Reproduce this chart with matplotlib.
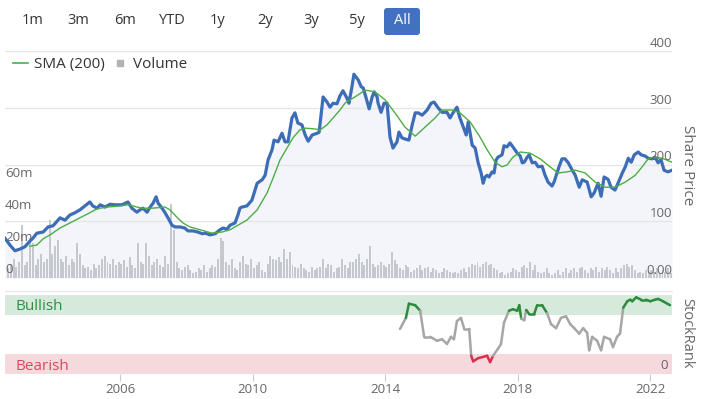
import numpy as np
import matplotlib.pyplot as plt
from matplotlib.lines import Line2D
from matplotlib.patches import FancyBboxPatch
from matplotlib.transforms import IdentityTransform
from matplotlib.collections import LineCollection

plt.rcParams['font.family'] = ['Open Sans', 'DejaVu Sans']

# Precio de la accion (año decimal, precio)
price_years = [2002.53, 2002.68, 2002.83, 2002.98, 2003.13, 2003.28, 2003.37, 2003.49, 2003.68, 2003.83,
               2003.98, 2004.10, 2004.19, 2004.34, 2004.49, 2004.64, 2004.79, 2004.94, 2005.09, 2005.18,
               2005.31, 2005.40, 2005.55, 2005.70, 2005.85, 2006.06, 2006.24, 2006.36, 2006.51, 2006.60,
               2006.69, 2006.82, 2006.91, 2007.00, 2007.09, 2007.15, 2007.27, 2007.36, 2007.45, 2007.57,
               2007.66, 2007.81, 2007.96, 2008.05, 2008.20, 2008.35, 2008.48, 2008.57, 2008.72, 2008.87,
               2009.02, 2009.11, 2009.23, 2009.32, 2009.47, 2009.56, 2009.62, 2009.68, 2009.83, 2009.98,
               2010.14, 2010.29, 2010.38, 2010.47, 2010.59, 2010.65, 2010.77, 2010.89, 2010.98, 2011.07,
               2011.19, 2011.28, 2011.37, 2011.49, 2011.59, 2011.68, 2011.80, 2011.95, 2012.01, 2012.13,
               2012.25, 2012.34, 2012.43, 2012.55, 2012.64, 2012.73, 2012.85, 2012.91, 2013.00, 2013.06,
               2013.19, 2013.28, 2013.34, 2013.43, 2013.52, 2013.61, 2013.67, 2013.76, 2013.79, 2013.88,
               2013.97, 2014.06, 2014.15, 2014.24, 2014.36, 2014.42, 2014.51, 2014.60, 2014.72, 2014.82,
               2014.91, 2015.00, 2015.12, 2015.27, 2015.39, 2015.48, 2015.60, 2015.72, 2015.87, 2015.96,
               2016.05, 2016.17, 2016.26, 2016.36, 2016.45, 2016.51, 2016.63, 2016.72, 2016.81, 2016.90,
               2016.96, 2017.02, 2017.08, 2017.14, 2017.23, 2017.29, 2017.35, 2017.41, 2017.53, 2017.59,
               2017.68, 2017.77, 2017.86, 2017.99, 2018.08, 2018.14, 2018.20, 2018.29, 2018.35, 2018.44,
               2018.53, 2018.62, 2018.74, 2018.83, 2018.92, 2019.04, 2019.10, 2019.19, 2019.25, 2019.34,
               2019.43, 2019.53, 2019.65, 2019.74, 2019.86, 2019.95, 2020.10, 2020.22, 2020.31, 2020.43,
               2020.52, 2020.61, 2020.73, 2020.82, 2020.94, 2021.03, 2021.16, 2021.25, 2021.34, 2021.43,
               2021.52, 2021.64, 2021.73, 2021.85, 2021.94, 2022.06, 2022.15, 2022.24, 2022.33, 2022.42,
               2022.54, 2022.66]
price = [70, 58, 48, 51, 55, 65, 70, 79, 81, 90,
         92, 100, 106, 102, 111, 115, 120, 127, 134, 127,
         123, 129, 125, 130, 129, 129, 134, 123, 116, 120,
         123, 116, 125, 132, 143, 132, 123, 115, 106, 93,
         90, 90, 88, 83, 83, 81, 78, 79, 76, 78,
         85, 88, 86, 93, 97, 111, 123, 125, 127, 137,
         167, 173, 181, 208, 226, 243, 240, 255, 240, 240,
         282, 291, 273, 270, 252, 241, 252, 255, 257, 319,
         310, 301, 308, 307, 321, 330, 317, 308, 337, 359,
         349, 337, 335, 317, 298, 319, 328, 319, 308, 292,
         308, 308, 248, 229, 240, 257, 247, 245, 243, 270,
         291, 291, 287, 296, 308, 310, 300, 292, 292, 282,
         291, 301, 282, 266, 252, 275, 234, 229, 203, 185,
         167, 178, 181, 178, 187, 185, 208, 213, 217, 233,
         231, 238, 231, 220, 215, 203, 204, 213, 217, 203,
         204, 196, 197, 181, 169, 162, 169, 185, 196, 210,
         210, 203, 190, 181, 160, 173, 169, 143, 150, 167,
         144, 178, 174, 160, 155, 167, 185, 196, 211, 204,
         217, 222, 217, 215, 211, 210, 213, 203, 208, 190,
         187, 190]

# Media movil SMA (200)
sma_years = [2003.28, 2003.49, 2003.68, 2003.89, 2004.19, 2004.49, 2004.79, 2005.09, 2005.31, 2005.61,
             2006.00, 2006.24, 2006.66, 2006.97, 2007.36, 2007.51, 2007.72, 2007.90, 2008.11, 2008.42,
             2008.78, 2009.08, 2009.32, 2009.53, 2009.83, 2010.14, 2010.44, 2010.62, 2010.83, 2011.04,
             2011.22, 2011.43, 2011.59, 2011.83, 2012.04, 2012.25, 2012.43, 2012.64, 2012.79, 2012.94,
             2013.09, 2013.40, 2013.70, 2014.00, 2014.30, 2014.60, 2014.91, 2015.21, 2015.51, 2015.72,
             2016.02, 2016.26, 2016.57, 2016.87, 2017.08, 2017.32, 2017.53, 2017.68, 2017.86, 2018.08,
             2018.38, 2018.68, 2018.98, 2019.22, 2019.50, 2019.74, 2020.04, 2020.34, 2020.64, 2020.94,
             2021.25, 2021.55, 2021.76, 2021.94, 2022.15, 2022.36, 2022.66]
sma = [56, 58, 69, 76, 88, 97, 106, 115, 122, 125,
       127, 129, 123, 123, 125, 120, 107, 97, 90, 85,
       79, 81, 85, 92, 102, 120, 150, 176, 208, 229,
       247, 261, 264, 263, 261, 270, 282, 296, 308, 314,
       319, 331, 328, 314, 291, 266, 250, 266, 282, 296,
       296, 291, 275, 248, 226, 204, 196, 199, 213, 222,
       220, 210, 196, 185, 187, 190, 185, 169, 160, 160,
       169, 181, 196, 210, 213, 211, 204]

# Volumen mensual (millones), desde agosto 2002
volume = ([6, 9, 12, 7, 10] +
          [33, 8, 10, 25, 22, 8, 12, 15, 10, 12, 36, 15] +
          [20, 24, 12, 10, 14, 8, 12, 10, 22, 15, 8, 6] +
          [7, 5, 9, 6, 8, 12, 14, 10, 9, 12, 8, 10] +
          [9, 11, 7, 13, 8, 6, 22, 10, 9, 22, 14, 8] +
          [10, 12, 8, 7, 14, 9, 46, 30, 10, 6, 5, 7] +
          [8, 5, 3, 4, 6, 5, 8, 4, 6, 8, 7, 12] +
          [25, 23, 10, 8, 12, 6, 5, 10, 14, 9, 8, 12] +
          [6, 8, 10, 5, 4, 9, 14, 12, 11, 13, 10, 18] +
          [12, 16, 8, 7, 6, 9, 6, 5, 4, 7, 5, 6] +
          [7, 12, 6, 9, 8, 4, 6, 7, 12, 8, 6, 10] +
          [10, 12, 15, 10, 8, 12, 20, 9, 7, 8, 10, 8] +
          [7, 9, 16, 11, 9, 6, 5, 8, 7, 4, 5, 6] +
          [8, 5, 6, 7, 4, 6, 5, 3, 4, 6, 5, 4] +
          [3, 4, 3, 5, 6, 4, 7, 9, 8, 10, 7, 9] +
          [10, 8, 9, 6, 5, 3, 4, 2, 3, 4, 6, 5] +
          [4, 7, 8, 6, 10, 5, 8, 4, 3, 4, 6, 3] +
          [2, 3, 5, 2, 4, 6, 3, 5, 6, 4, 6, 7] +
          [5, 3, 6, 5, 7, 4, 6, 5, 7, 5, 3, 6] +
          [4, 6, 8, 9, 7, 8, 5, 3, 4, 3, 5, 4] +
          [5, 4, 6, 3, 5, 4, 6, 3, 4])
vol_years = 2002 + (7 + np.arange(len(volume))) / 12 + 0.04

# StockRank
rank_years = [2014.45, 2014.63, 2014.72, 2014.91, 2015.06, 2015.18, 2015.37, 2015.57, 2015.72, 2015.87,
              2015.99, 2016.08, 2016.17, 2016.29, 2016.39, 2016.54, 2016.60, 2016.66, 2016.81, 2017.08,
              2017.17, 2017.26, 2017.41, 2017.50, 2017.59, 2017.74, 2017.86, 2017.99, 2018.05, 2018.11,
              2018.20, 2018.26, 2018.35, 2018.50, 2018.59, 2018.74, 2018.89, 2019.01, 2019.16, 2019.31,
              2019.46, 2019.59, 2019.71, 2019.86, 2019.98, 2020.10, 2020.16, 2020.25, 2020.40, 2020.52,
              2020.61, 2020.79, 2020.88, 2021.00, 2021.09, 2021.19, 2021.31, 2021.40, 2021.46, 2021.58,
              2021.73, 2021.88, 2022.00, 2022.15, 2022.24, 2022.39, 2022.60]
rank = [57, 71, 89, 87, 80, 47, 47, 42, 44, 38,
        47, 44, 67, 71, 57, 57, 23, 16, 20, 23,
        15, 23, 32, 38, 65, 80, 82, 80, 87, 70,
        68, 81, 76, 76, 87, 87, 77, 63, 58, 71,
        73, 63, 58, 51, 58, 52, 30, 47, 42, 30,
        47, 44, 34, 47, 51, 84, 92, 94, 92, 97,
        94, 94, 92, 94, 95, 92, 87]

year_ticks = [2006, 2010, 2014, 2018, 2022]
buttons = ['1m', '3m', '6m', 'YTD', '1y', '2y', '3y', '5y', 'All']

xmin, xmax = 2002.53, 2022.66
grey_txt = '#666666'

fig = plt.figure(figsize=(7.04, 3.99), dpi=100)
rect = [5 / 704, 1 - 278 / 399, 667 / 704, 227 / 399]

# fondo: relleno bajo el precio y lineas de rejilla
ax_bg = fig.add_axes(rect)
ax_bg.fill_between(price_years, price, 0, color='#f3f5fa', lw=0)
for v in [0, 100, 200, 300, 400]:
    ax_bg.axhline(v, color='#e6e6e6', lw=1)
ax_bg.set_ylim(0, 400)

# volumen
ax_vol = fig.add_axes(rect)
ax_vol.bar(vol_years, volume, width=0.06, color='#c6c8cf', lw=0)
ax_vol.set_ylim(0, 141.9)
for v, lab in zip([0, 20, 40, 60], ['0', '20m', '40m', '60m']):
    ax_vol.text(0.0, v + 1.0, lab, transform=ax_vol.get_yaxis_transform(), ha='left', va='bottom',
                fontsize=9.5, color=grey_txt)

# precio y SMA
ax = fig.add_axes(rect)
ax.plot(price_years, price, color='#3c6db6', lw=2.3, solid_joinstyle='round')
ax.plot(sma_years, sma, color='#4cae45', lw=1.0)
ax.set_ylim(0, 400)
for v, lab in zip([0, 100, 200, 300, 400], ['0.00', '100', '200', '300', '400']):
    ax.text(1.0, v + 2, lab, transform=ax.get_yaxis_transform(), ha='right', va='bottom',
            fontsize=9.5, color=grey_txt)

for a in [ax_bg, ax_vol, ax]:
    a.set_xlim(xmin, xmax)
    a.patch.set_visible(False)
    a.set_xticks([])
    a.set_yticks([])
    for s in a.spines.values():
        s.set_visible(False)

handles = [Line2D([], [], color='#4cae45', lw=1.2),
           Line2D([], [], marker='s', ls='none', color='#b0b2b8', markersize=5)]
fig.legend(handles, ['SMA (200)', 'Volume'], loc='upper left', bbox_to_anchor=(13 / 704, 1 - 57 / 399),
           ncol=2, frameon=False, fontsize=11, handlelength=1.0, handletextpad=0.35,
           columnspacing=0.5, borderpad=0, borderaxespad=0, labelcolor='#333333')

# panel StockRank
ax2 = fig.add_axes([5 / 704, 1 - 374 / 399, 667 / 704, 83 / 399])
ax2.axhspan(75, 100, color='#d5eadb', lw=0)
ax2.axhspan(0, 25, color='#f6d9dc', lw=0)
pts = np.column_stack([rank_years, rank])
segs = np.stack([pts[:-1], pts[1:]], axis=1)
cols = []
for a_, b_ in zip(rank[:-1], rank[1:]):
    m = (a_ + b_) / 2
    cols.append('#2e8b3e' if m >= 75 else ('#d9304d' if m <= 25 else '#a6a6a6'))
ax2.add_collection(LineCollection(segs, colors=cols, lw=1.8, capstyle='round', joinstyle='round'))
ax2.text(0.015, 85, 'Bullish', transform=ax2.get_yaxis_transform(), va='center', fontsize=11, color='#2f8f46')
ax2.text(0.015, 9, 'Bearish', transform=ax2.get_yaxis_transform(), va='center', fontsize=11, color='#d9485f')
ax2.text(0.994, 3, '0', transform=ax2.get_yaxis_transform(), ha='right', va='bottom', fontsize=9.5, color=grey_txt)
ax2.set_xlim(xmin, xmax)
ax2.set_ylim(0, 105)
ax2.set_yticks([])
ax2.set_xticks(year_ticks)
ax2.set_xticklabels([str(y) for y in year_ticks])
ax2.tick_params(axis='x', length=5, color='#cccccc', labelcolor=grey_txt, labelsize=9.5, pad=1.5)
for k, s in ax2.spines.items():
    s.set_visible(k == 'top')
ax2.spines['top'].set_color('#e6e6e6')

# titulos de ejes
fig.text(687 / 704, 1 - 165 / 399, 'Share Price', rotation=-90, ha='center', va='center', fontsize=11, color=grey_txt)
fig.text(687 / 704, 1 - 333 / 399, 'StockRank', rotation=-90, ha='center', va='center', fontsize=10.5, color=grey_txt)

# botones de rango
fig.add_artist(FancyBboxPatch((384, 399 - 35), 36, 27, boxstyle='round,pad=0,rounding_size=3',
                              transform=IdentityTransform(), fc='#4171c0', ec='none'))
for xb, lab in zip([33, 78, 125, 172, 218, 265, 311, 357, 402], buttons):
    fig.text(xb / 704, 1 - 21 / 399, lab, ha='center', va='center', fontsize=10.5,
             color='white' if lab == 'All' else '#333333')

plt.savefig('out.png', dpi=100)
